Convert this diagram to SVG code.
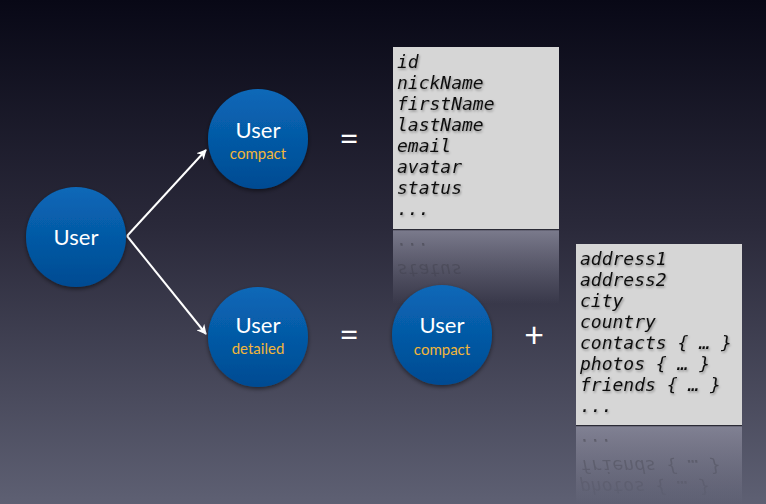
<svg xmlns="http://www.w3.org/2000/svg" width="766" height="504" viewBox="0 0 766 504">
<defs>
<linearGradient id="bg" x1="0" y1="0" x2="0" y2="1">
<stop offset="0" stop-color="#080816"/>
<stop offset="0.45" stop-color="#2a293a"/>
<stop offset="1" stop-color="#5e6073"/>
</linearGradient>
<linearGradient id="ball" x1="0" y1="0" x2="0" y2="1">
<stop offset="0" stop-color="#0a68b8"/>
<stop offset="1" stop-color="#004b92"/>
</linearGradient>
<linearGradient id="refl" x1="0" y1="0" x2="0" y2="1">
<stop offset="0" stop-color="#8a8a9c" stop-opacity="0.85"/>
<stop offset="1" stop-color="#8a8a9c" stop-opacity="0"/>
</linearGradient>
<linearGradient id="fadeMask" x1="0" y1="0" x2="0" y2="1">
<stop offset="0" stop-color="#fff" stop-opacity="0.7"/>
<stop offset="1" stop-color="#fff" stop-opacity="0"/>
</linearGradient>
<mask id="m1"><rect x="393" y="230" width="166" height="70" fill="url(#fadeMask)"/></mask>
<mask id="m2"><rect x="576" y="426" width="166" height="78" fill="url(#fadeMask)"/></mask>
<filter id="sh" x="-20%" y="-20%" width="140%" height="140%">
<feDropShadow dx="0" dy="2" stdDeviation="2" flood-color="#000" flood-opacity="0.5"/>
</filter>
<filter id="tsh" x="-10%" y="-30%" width="120%" height="160%">
<feDropShadow dx="1" dy="1.5" stdDeviation="1" flood-color="#000" flood-opacity="0.35"/>
</filter>
<marker id="ah" viewBox="0 0 10 10" refX="9" refY="5" markerWidth="5" markerHeight="5" orient="auto" markerUnits="strokeWidth">
<path d="M0,0 L10,5 L0,10 L3,5 Z" fill="#ffffff"/>
</marker>
<style>
.ball{fill:url(#ball);filter:url(#sh)}
.t1{font-family:Lato,"Open Sans",sans-serif;font-size:22px;fill:#ffffff;text-anchor:middle}
.t2{font-family:Lato,"Open Sans",sans-serif;font-size:15px;fill:#f2b53a;text-anchor:middle}
.op{font-family:Lato,"Open Sans",sans-serif;font-size:34px;fill:#ffffff;text-anchor:middle}
.mono{font-family:"DejaVu Sans Mono","Liberation Mono",monospace;font-style:italic;font-size:18px;fill:#111111}
.box{fill:#d6d6d6}
.conn{stroke:#ffffff;stroke-width:2;fill:none}
</style>
</defs>
<rect width="766" height="504" fill="url(#bg)"/>

<g id="reflections">
<rect x="393" y="229" width="166" height="75" fill="url(#refl)"/>
<line x1="393" y1="229.5" x2="559" y2="229.5" stroke="#2a2a35" stroke-width="1.5"/>
<g mask="url(#m1)">
<g transform="translate(0,458) scale(1,-1)">
<text class="mono" x="397" y="194" fill-opacity="0.45">status</text>
<text class="mono" x="397" y="215" fill-opacity="0.45">...</text>
</g>
</g>
<rect x="576" y="425" width="166" height="79" fill="url(#refl)"/>
<line x1="576" y1="425.5" x2="742" y2="425.5" stroke="#2a2a35" stroke-width="1.5"/>
<g mask="url(#m2)">
<g transform="translate(0,851) scale(1,-1)">
<text class="mono" x="580" y="370" fill-opacity="0.45">photos { … }</text>
<text class="mono" x="580" y="391" fill-opacity="0.45">friends { … }</text>
<text class="mono" x="580" y="412" fill-opacity="0.45">...</text>
</g>
</g>
</g>

<g id="connectors">
<polyline class="conn" points="127,236 206,150" marker-end="url(#ah)"/>
<polyline class="conn" points="127,236 206,334" marker-end="url(#ah)"/>
</g>

<g id="user">
<circle class="ball" cx="76" cy="237" r="50"/>
<text class="t1" x="76" y="245">User</text>
</g>
<g id="user-compact">
<circle class="ball" cx="258" cy="139" r="50"/>
<text class="t1" x="258" y="138">User</text>
<text class="t2" x="258" y="159">compact</text>
</g>
<g id="user-detailed">
<circle class="ball" cx="258" cy="337" r="50"/>
<text class="t1" x="258" y="333">User</text>
<text class="t2" x="258" y="354">detailed</text>
</g>
<g id="user-compact-2">
<circle class="ball" cx="442" cy="335" r="50"/>
<text class="t1" x="442" y="333">User</text>
<text class="t2" x="442" y="355">compact</text>
</g>

<g id="ops">
<text class="op" x="349" y="151">=</text>
<text class="op" x="349" y="347">=</text>
<text class="op" x="534" y="347">+</text>
</g>

<g id="compact-fields">
<rect class="box" x="393" y="47" width="166" height="182"/>
<g filter="url(#tsh)">
<text class="mono" x="397" y="68">id</text>
<text class="mono" x="397" y="89">nickName</text>
<text class="mono" x="397" y="110">firstName</text>
<text class="mono" x="397" y="131">lastName</text>
<text class="mono" x="397" y="152">email</text>
<text class="mono" x="397" y="173">avatar</text>
<text class="mono" x="397" y="194">status</text>
<text class="mono" x="397" y="215">...</text>
</g>
</g>

<g id="detailed-fields">
<rect class="box" x="576" y="244" width="166" height="181"/>
<g filter="url(#tsh)">
<text class="mono" x="580" y="265">address1</text>
<text class="mono" x="580" y="286">address2</text>
<text class="mono" x="580" y="307">city</text>
<text class="mono" x="580" y="328">country</text>
<text class="mono" x="580" y="349">contacts { … }</text>
<text class="mono" x="580" y="370">photos { … }</text>
<text class="mono" x="580" y="391">friends { … }</text>
<text class="mono" x="580" y="412">...</text>
</g>
</g>
</svg>
